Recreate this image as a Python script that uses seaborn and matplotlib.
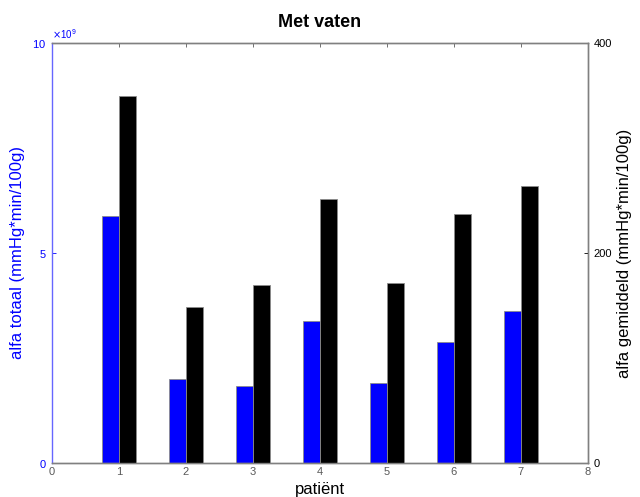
import numpy as np
import pandas as pd
import seaborn as sns
import matplotlib.pyplot as plt
from matplotlib.ticker import ScalarFormatter

# data
patients = [1, 2, 3, 4, 5, 6, 7]
alfa_totaal = [5.87e9, 2.01e9, 1.84e9, 3.38e9, 1.91e9, 2.89e9, 3.62e9]
alfa_gemiddeld = [349, 149, 170, 251, 171, 237, 264]

sns.set_style("white")
plt.rcParams['font.family'] = ['Liberation Sans', 'DejaVu Sans']
plt.rcParams['text.color'] = 'black'
plt.rcParams['axes.labelcolor'] = 'black'

shift = 0.125
df_tot = pd.DataFrame({"x": np.array(patients) - shift, "y": alfa_totaal})
df_gem = pd.DataFrame({"x": np.array(patients) + shift, "y": alfa_gemiddeld})

fig = plt.figure(figsize=(6.4, 4.97), dpi=100)
ax = fig.add_axes([0.081, 0.068, 0.8375, 0.846])
ax2 = ax.twinx()

sns.barplot(data=df_tot, x="x", y="y", native_scale=True, width=0.25,
            color="#0000ff", saturation=1, edgecolor="0.55", linewidth=0.6, ax=ax)
sns.barplot(data=df_gem, x="x", y="y", native_scale=True, width=0.25,
            color="black", saturation=1, edgecolor="0.55", linewidth=0.6, ax=ax2)

ax.set_xlim(0, 8)
ax.set_xticks(range(0, 9))
ax.set_xticklabels([str(i) for i in range(0, 9)])
ax.set_ylim(0, 10e9)
ax.set_yticks([0, 5e9, 10e9])
fmt = ScalarFormatter(useMathText=True)
fmt.set_powerlimits((9, 9))
ax.yaxis.set_major_formatter(fmt)
ax2.set_ylim(0, 400)
ax2.set_yticks([0, 200, 400])

ax.set_xlabel("patiënt", fontsize=12, labelpad=3, color="black")
ax.set_ylabel("alfa totaal (mmHg*min/100g)", fontsize=12, color="#0000ff", labelpad=5)
ax2.set_ylabel("alfa gemiddeld (mmHg*min/100g)", fontsize=12, color="black", labelpad=4)
ax.set_title("Met vaten", fontsize=13, fontweight="bold", pad=11, color="black")

ax.tick_params(axis="x", direction="in", top=True, labelsize=8, colors="0.35",
               length=3, width=0.6, pad=3)
ax.tick_params(axis="y", direction="in", labelsize=8, colors="#0000ff",
               length=3, width=0.6, pad=4)
ax2.tick_params(axis="y", direction="in", labelsize=8, colors="black",
                length=3, width=0.6, pad=4)
ax.yaxis.get_offset_text().set_color("#0000ff")
ax.yaxis.get_offset_text().set_fontsize(7)

for s in ["top", "bottom", "right"]:
    ax.spines[s].set_color("0.5")
    ax2.spines[s].set_color("0.5")
ax.spines["left"].set_color("#6666ff")
ax2.spines["left"].set_visible(False)
for a in (ax, ax2):
    for s in a.spines.values():
        s.set_linewidth(1.0)

fig.savefig("out.png", dpi=100)
